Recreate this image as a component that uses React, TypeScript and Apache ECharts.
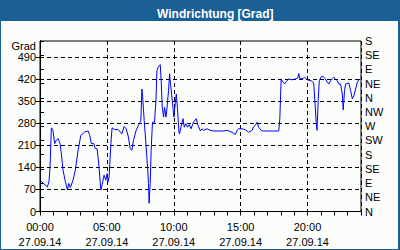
import React, { useEffect, useRef } from "react";
import * as echarts from "echarts";

const chartTitle = "Windrichtung [Grad]";
const unitLabel = "Grad";
const dateLabel = "27.09.14";
const dirLabels = ["N", "NE", "E", "SE", "S", "SW", "W", "NW", "N", "NE", "E", "SE", "S"];
const hourTicks = [0, 5, 10, 15, 20];
const gradTicks = [0, 70, 140, 210, 280, 350, 420, 490];

// hours since 00:00 on 27.09.14
const hours = [
  0.05, 0.55, 0.67, 0.75, 0.85, 0.97, 1.1, 1.18, 1.35, 1.5, 1.6, 1.72, 1.9, 2.05, 2.15, 2.27,
  2.47, 2.64, 2.85, 3.05, 3.35, 3.6, 3.72, 3.84, 4.02, 4.14, 4.27, 4.4, 4.55, 4.64, 4.79, 4.92,
  5.02, 5.09, 5.17, 5.3, 5.39, 5.6, 5.84, 6.12, 6.29, 6.44, 6.61, 6.74, 6.87, 6.99, 7.19, 7.36,
  7.54, 7.62, 7.69, 7.79, 7.92, 8.04, 8.11, 8.16, 8.24, 8.31, 8.41, 8.56, 8.67, 8.74, 8.86, 8.99,
  9.06, 9.14, 9.24, 9.31, 9.42, 9.49, 9.61, 9.69, 9.76, 9.84, 9.94, 10.01, 10.11, 10.19, 10.28,
  10.39, 10.43, 10.54, 10.69, 10.79, 10.91, 11.03, 11.16, 11.29, 11.48, 11.69, 11.81, 11.99,
  12.11, 12.23, 12.49, 12.73, 12.98, 13.73, 13.98, 14.36, 14.61, 14.73, 14.85, 15.11, 15.36,
  15.6, 15.86, 15.98, 16.1, 16.23, 16.35, 16.53, 16.73, 17.23, 17.85, 17.93, 18.03, 18.18, 18.28,
  18.43, 18.6, 18.85, 19.1, 19.27, 19.35, 19.42, 19.6, 19.78, 19.98, 20.28, 20.43, 20.47, 20.55,
  20.65, 20.71, 20.8, 20.88, 21.03, 21.18, 21.35, 21.47, 21.6, 21.72, 21.85, 21.97, 22.1, 22.22,
  22.35, 22.47, 22.6, 22.67, 22.77, 22.85, 23.09, 23.22, 23.35, 23.47, 23.6, 23.72, 23.84, 23.97,
];

// wind direction in degrees (values > 360 continue past N)
const direction = [
  97, 78, 94, 141, 265, 257, 215, 223, 231, 215, 183, 131, 94, 68, 89, 76,
  99, 131, 194, 241, 252, 255, 241, 215, 215, 199, 199, 147, 68, 84, 115, 99,
  120, 94, 110, 215, 265, 259, 260, 246, 269, 262, 236, 199, 194, 225, 257, 273,
  288, 388, 354, 288, 215, 141, 89, 26, 89, 194, 283, 283, 351, 446, 459, 465,
  414, 330, 299, 330, 299, 325, 383, 436, 403, 372, 330, 299, 341, 372, 325,
  251, 246, 267, 294, 267, 278, 267, 275, 262, 283, 294, 273, 255,
  262, 257, 262, 257, 255, 255, 257, 251, 244, 257, 262, 262, 259,
  251, 257, 269, 273, 283, 267, 257, 255, 255, 255, 294, 420, 409, 404,
  412, 420, 417, 420, 423, 437, 422, 420, 425, 417, 414, 409, 404, 351,
  283, 257, 351, 414, 427, 427, 420, 409, 404, 414, 420, 425, 420, 414,
  404, 404, 372, 322, 383, 404, 407, 383, 357, 367, 388, 409, 417, 420,
];

const BLUE = "#1a5f96";
const FONT = "Liberation Sans";

export default function App() {
  const ref = useRef<HTMLDivElement>(null);
  useEffect(() => {
    if (!ref.current) return;
    const chart = echarts.init(ref.current, undefined, { renderer: "svg" });
    const seriesData = hours.map((h, i) => [h, direction[i]]);
    const dash = { color: "#000", type: [4, 3] as any, width: 1 };
    chart.setOption({
      animation: false,
      backgroundColor: BLUE,
      title: {
        text: chartTitle,
        left: 152,
        top: 3,
        textStyle: { color: "#fff", fontFamily: FONT, fontSize: 12, fontWeight: "bold" },
      },
      graphic: [
        {
          type: "rect",
          z: -10,
          shape: { x: 1, y: 21, width: 397, height: 228 },
          style: { fill: "#fbfdfb" },
          silent: true,
        },
        {
          type: "text",
          x: 36,
          y: 46,
          style: {
            text: unitLabel,
            fill: "#000",
            font: `11px "${FONT}"`,
            textAlign: "right",
            textVerticalAlign: "middle",
          },
        },
      ],
      grid: {
        left: 40,
        right: 39,
        top: 41,
        bottom: 38.5,
        show: true,
        borderColor: "#000",
        borderWidth: 1,
        backgroundColor: "transparent",
      },
      xAxis: [
        {
          type: "value",
          min: 0,
          max: 24,
          interval: 1,
          position: "bottom",
          axisLine: { show: true, lineStyle: { color: "#000", width: 1 } },
          axisTick: { show: true, inside: false, length: 4, lineStyle: { color: "#000" } },
          splitLine: { show: false },
          axisLabel: {
            color: "#000",
            fontFamily: FONT,
            fontSize: 11,
            lineHeight: 15,
            margin: 8,
            formatter: (v: number) =>
              hourTicks.includes(v) ? `${String(v).padStart(2, "0")}:00\n${dateLabel}` : "",
          },
        },
        {
          type: "value",
          min: 0,
          max: 24,
          interval: 5,
          position: "bottom",
          show: true,
          axisLine: { show: false },
          axisTick: { show: false },
          axisLabel: { show: false },
          splitLine: { show: true, lineStyle: dash },
        },
      ],
      yAxis: [
        {
          type: "value",
          min: 0,
          max: 540,
          interval: 70,
          position: "left",
          axisLine: { show: true, lineStyle: { color: "#000", width: 1 } },
          axisTick: {
            show: true,
            inside: false,
            length: 4,
            customValues: gradTicks,
            lineStyle: { color: "#000" },
          },
          splitLine: { show: true, lineStyle: dash },
          axisLabel: {
            color: "#000",
            fontFamily: FONT,
            fontSize: 11,
            margin: 4,
            customValues: gradTicks,
            formatter: (v: number) => (v <= 490 ? String(v) : ""),
          },
        },
        {
          type: "value",
          min: 0,
          max: 540,
          interval: 45,
          position: "right",
          axisLine: { show: true, lineStyle: { color: "#000", width: 1 } },
          axisTick: { show: true, inside: false, length: 4, lineStyle: { color: "#000" } },
          splitLine: { show: false },
          axisLabel: {
            color: "#000",
            fontFamily: FONT,
            fontSize: 11,
            margin: 4,
            formatter: (v: number) => dirLabels[Math.round(v / 45)] ?? "",
          },
        },
      ],
      series: [
        {
          type: "line",
          xAxisIndex: 0,
          yAxisIndex: 0,
          data: seriesData,
          showSymbol: false,
          symbol: "none",
          lineStyle: { color: "#0000ff", width: 1 },
          z: 5,
        },
      ],
    });
    return () => chart.dispose();
  }, []);
  return (
    <div
      ref={ref}
      style={{ position: "fixed", left: 0, top: 0, width: 400, height: 250 }}
    />
  );
}
